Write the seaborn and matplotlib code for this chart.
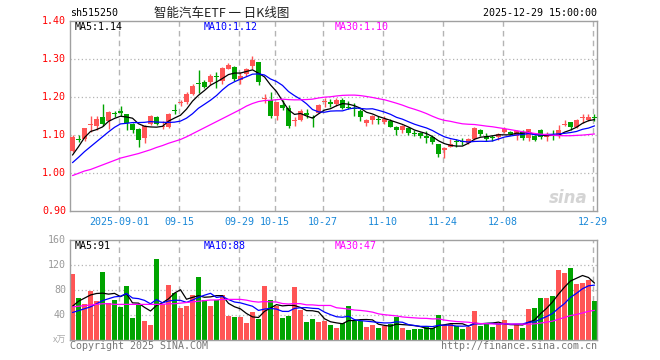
import numpy as np
import pandas as pd
import matplotlib
matplotlib.use("Agg")
import matplotlib.pyplot as plt
import seaborn as sns

# ---------------- data ----------------
opens = [1.060, 1.090, 1.089, 1.128, 1.125, 1.147, 1.137, 1.159, 1.164, 1.155,
         1.130, 1.117, 1.094, 1.130, 1.147, 1.123, 1.123, 1.167, 1.185, 1.188,
         1.210, 1.236, 1.241, 1.239, 1.256, 1.243, 1.274, 1.280, 1.245, 1.261,
         1.283, 1.292, 1.195, 1.193, 1.152, 1.180, 1.173, 1.137, 1.140, 1.160,
         1.147, 1.160, 1.187, 1.188, 1.182, 1.193, 1.175, 1.170, 1.165, 1.133,
         1.140, 1.141, 1.136, 1.138, 1.123, 1.114, 1.118, 1.106, 1.105, 1.098,
         1.095, 1.077, 1.062, 1.070, 1.084, 1.085, 1.079, 1.089, 1.114, 1.098,
         1.096, 1.095, 1.110, 1.108, 1.098, 1.108, 1.092, 1.099, 1.114, 1.095,
         1.099, 1.101, 1.128, 1.136, 1.121, 1.146, 1.140, 1.148]
highs = [1.100, 1.100, 1.120, 1.152, 1.151, 1.182, 1.164, 1.164, 1.178, 1.157,
         1.133, 1.120, 1.127, 1.154, 1.150, 1.138, 1.158, 1.182, 1.192, 1.213,
         1.234, 1.272, 1.245, 1.262, 1.267, 1.280, 1.290, 1.283, 1.266, 1.276,
         1.309, 1.294, 1.210, 1.215, 1.187, 1.193, 1.179, 1.148, 1.168, 1.168,
         1.153, 1.182, 1.197, 1.196, 1.197, 1.199, 1.191, 1.184, 1.168, 1.142,
         1.153, 1.150, 1.150, 1.144, 1.124, 1.126, 1.121, 1.114, 1.108, 1.111,
         1.100, 1.077, 1.068, 1.089, 1.089, 1.094, 1.094, 1.122, 1.117, 1.107,
         1.101, 1.106, 1.122, 1.111, 1.114, 1.114, 1.117, 1.101, 1.117, 1.110,
         1.114, 1.127, 1.141, 1.136, 1.142, 1.155, 1.157, 1.157]
lows = [1.055, 1.082, 1.086, 1.110, 1.114, 1.124, 1.117, 1.149, 1.150, 1.115,
        1.105, 1.068, 1.080, 1.128, 1.128, 1.116, 1.118, 1.156, 1.177, 1.183,
        1.205, 1.212, 1.225, 1.232, 1.224, 1.236, 1.274, 1.243, 1.236, 1.257,
        1.274, 1.232, 1.184, 1.145, 1.140, 1.167, 1.120, 1.124, 1.137, 1.146,
        1.123, 1.158, 1.174, 1.174, 1.177, 1.168, 1.168, 1.151, 1.138, 1.125,
        1.130, 1.131, 1.130, 1.121, 1.101, 1.106, 1.101, 1.098, 1.093, 1.080,
        1.076, 1.044, 1.039, 1.068, 1.068, 1.074, 1.076, 1.087, 1.098, 1.084,
        1.085, 1.088, 1.106, 1.101, 1.088, 1.088, 1.086, 1.086, 1.091, 1.086,
        1.088, 1.092, 1.124, 1.115, 1.119, 1.132, 1.138, 1.138]
closes = [1.095, 1.088, 1.118, 1.131, 1.143, 1.130, 1.161, 1.157, 1.160, 1.133,
          1.114, 1.088, 1.124, 1.151, 1.130, 1.125, 1.156, 1.165, 1.188, 1.210,
          1.230, 1.234, 1.228, 1.257, 1.253, 1.276, 1.285, 1.248, 1.257, 1.274,
          1.297, 1.241, 1.199, 1.152, 1.187, 1.173, 1.124, 1.139, 1.164, 1.154,
          1.145, 1.180, 1.189, 1.182, 1.193, 1.173, 1.173, 1.168, 1.149, 1.140,
          1.151, 1.139, 1.143, 1.123, 1.114, 1.124, 1.105, 1.104, 1.098, 1.092,
          1.083, 1.051, 1.066, 1.076, 1.082, 1.083, 1.089, 1.118, 1.103, 1.089,
          1.094, 1.103, 1.117, 1.103, 1.111, 1.092, 1.117, 1.088, 1.095, 1.103,
          1.097, 1.115, 1.131, 1.123, 1.140, 1.149, 1.149, 1.146]
volumes = [106, 67, 58, 79, 62, 109, 59, 64, 53, 86,
           35, 57, 30, 24, 130, 57, 88, 76, 51, 54,
           72, 101, 64, 54, 64, 72, 39, 37, 37, 27,
           45, 34, 86, 64, 54, 35, 38, 85, 48, 29,
           34, 29, 30, 24, 20, 27, 54, 31, 31, 21,
           24, 19, 22, 25, 37, 20, 16, 17, 17, 22,
           19, 40, 24, 26, 22, 18, 21, 47, 22, 25,
           21, 28, 32, 17, 24, 19, 49, 51, 67, 67,
           70, 112, 107, 116, 89, 92, 96, 62]

# moving-average lines before enough bars exist in the window
ma5_head = [1.048, 1.070, 1.094, 1.110]
ma10_head = [1.028, 1.042, 1.057, 1.070, 1.083, 1.096, 1.109, 1.121, 1.130]
ma30_head = [0.994, 1.000, 1.006, 1.010, 1.016, 1.022, 1.028, 1.034, 1.040, 1.044,
             1.048, 1.052, 1.057, 1.062, 1.068, 1.073, 1.079, 1.084, 1.089, 1.096,
             1.104, 1.112, 1.120, 1.128, 1.136, 1.144, 1.152, 1.160, 1.168]
vma5_head = [54, 62, 67, 72]
vma10_head = [44, 47, 50, 53, 58, 63, 66, 69, 70]
vma30_head = [53, 54, 55, 56, 57, 58, 58, 57, 57, 57, 57, 57, 57, 57, 57,
              57, 58, 58, 59, 60, 61, 62, 63, 64, 64, 65, 65, 65, 65]

tick_index = [8, 18, 28, 34, 42, 52, 62, 72, 87]
tick_labels = ["2025-09-01", "09-15", "09-29", "10-15", "10-27",
               "11-10", "11-24", "12-08", "12-29"]
price_ticks = [0.90, 1.00, 1.10, 1.20, 1.30, 1.40]
vol_ticks = [40, 80, 120, 160]

# ---------------- helpers ----------------
def moving_average(values, n, head):
    s = pd.Series(values, dtype=float).rolling(n).mean()
    s.iloc[:len(head)] = head
    return s.to_numpy()

RED = "#ff5555"
GREEN = "#00a400"
GRID = "#b4b4b4"
FRAME = "#a0a0a0"
BLUE_TXT = "#1a88d8"
MONO = "DejaVu Sans Mono"

sns.set_theme(style="white")
plt.rcParams["font.family"] = ["DejaVu Sans Mono", "Noto Sans CJK SC"]

n = len(closes)
idx = np.arange(n)
o = np.array(opens); c = np.array(closes)
h = np.array(highs); l = np.array(lows)
up = c >= o
colors = np.where(up, RED, GREEN)

ma5 = moving_average(closes, 5, ma5_head)
ma10 = moving_average(closes, 10, ma10_head)
ma30 = moving_average(closes, 30, ma30_head)
vma5 = moving_average(volumes, 5, vma5_head)
vma10 = moving_average(volumes, 10, vma10_head)
vma30 = moving_average(volumes, 30, vma30_head)

W, H = 660, 360
fig = plt.figure(figsize=(6.6, 3.6), dpi=100)
fig.patch.set_facecolor("white")

def fx(px):
    return px / W

def fy(py):
    return 1 - py / H

XL, XR = 70, 597
ax = fig.add_axes([fx(XL), fy(211.3), fx(XR - XL), (211.3 - 21.3) / H])
axv = fig.add_axes([fx(XL), fy(340), fx(XR - XL), (340 - 240) / H])

xlim = ((XL - 72.5) / 6, (XR - 72.5) / 6)

# ---------------- price panel ----------------
for y in price_ticks[1:-1]:
    ax.axhline(y, color=GRID, lw=0.9, ls=(0, (1, 2)), zorder=0)
for t in tick_index:
    ax.axvline(t - 0.25, color=GRID, lw=1.0, ls=(0, (4, 3)), zorder=0)

ax.vlines(idx, l, h, colors=colors, lw=1.0, zorder=2)
body_h = np.maximum(np.abs(c - o), 0.0026)
body_b = np.minimum(o, c)
ax.bar(idx, body_h, bottom=body_b, width=0.8, color=colors, linewidth=0, zorder=3)

sns.lineplot(x=idx, y=ma5, ax=ax, color="black", lw=0.9, zorder=4)
sns.lineplot(x=idx, y=ma10, ax=ax, color="#0000ff", lw=0.9, zorder=4)
sns.lineplot(x=idx, y=ma30, ax=ax, color="#ff00ff", lw=0.9, zorder=4)

ax.set_xlim(*xlim)
ax.set_ylim(0.90, 1.40)
ax.set_xticks([])
ax.set_yticks([])
for sp in ax.spines.values():
    sp.set_color(FRAME); sp.set_linewidth(1.0); sp.set_visible(True)

# y labels (red)
for v in price_ticks:
    fig.text(fx(66), fy(211.3 - (v - 0.90) * 380), f"{v:.2f}", color="#ff0000",
             fontsize=7.2, family=MONO, ha="right", va="center")
# date labels
for t, lab in zip(tick_index, tick_labels):
    xpx = 72.5 + 6 * (t - 0.25)
    fig.text(fx(xpx), fy(222), lab, color=BLUE_TXT, fontsize=7.2,
             family=MONO, ha="center", va="center")

# MA legend texts
fig.text(fx(75), fy(26.5), f"MA5:{ma5[-1]:.2f}", color="black", fontsize=7.2,
         family=MONO, va="center")
fig.text(fx(204), fy(26.5), f"MA10:{ma10[-1]:.2f}", color="#0000ff", fontsize=7.2,
         family=MONO, va="center")
fig.text(fx(335), fy(26.5), f"MA30:{ma30[-1]:.2f}", color="#ff00ff", fontsize=7.2,
         family=MONO, va="center")

# header
fig.text(fx(70), fy(13), "sh515250", color="black", fontsize=7.2, family=MONO,
         va="center")
fig.text(fx(222), fy(13), "智能汽车ETF 一 日K线图", color="#222222", fontsize=9,
         family=["Noto Sans CJK SC", "DejaVu Sans"], ha="center", va="center")
fig.text(fx(597), fy(13), "2025-12-29 15:00:00", color="black", fontsize=7.2,
         family=MONO, ha="right", va="center")

# watermark
fig.text(fx(588), fy(198), "sina", color="#d0d0d0", fontsize=12,
         family="DejaVu Sans", style="italic", weight="bold", ha="right",
         va="center", alpha=0.9)

# ---------------- volume panel ----------------
for y in vol_ticks[:-1]:
    axv.axhline(y, color=GRID, lw=0.9, ls=(0, (1, 2)), zorder=0)
for t in tick_index:
    axv.axvline(t - 0.25, color=GRID, lw=1.0, ls=(0, (4, 3)), zorder=0)

vdf = pd.DataFrame({"i": idx, "vol": volumes,
                    "dir": np.where(up, "up", "down")})
sns.barplot(data=vdf, x="i", y="vol", hue="dir", native_scale=True,
            palette={"up": RED, "down": GREEN}, dodge=False, width=0.8,
            linewidth=0, saturation=1, legend=False, ax=axv, zorder=2)
sns.lineplot(x=idx, y=vma5, ax=axv, color="black", lw=0.9, zorder=4)
sns.lineplot(x=idx, y=vma10, ax=axv, color="#0000ff", lw=0.9, zorder=4)
sns.lineplot(x=idx, y=vma30, ax=axv, color="#ff00ff", lw=0.9, zorder=4)

axv.set_xlim(*xlim)
axv.set_ylim(0, 160)
axv.set_xticks([]); axv.set_yticks([])
axv.set_xlabel(""); axv.set_ylabel("")
ax.set_xlabel(""); ax.set_ylabel("")
for sp in axv.spines.values():
    sp.set_color(FRAME); sp.set_linewidth(1.0); sp.set_visible(True)

for v in vol_ticks:
    fig.text(fx(66), fy(340 - v * 0.625), f"{v}", color="#999999",
             fontsize=7.2, family=MONO, ha="right", va="center")
fig.text(fx(66), fy(340), "x万", color="#aaaaaa", fontsize=6.5,
         family=["Noto Sans CJK SC", "DejaVu Sans"], ha="right", va="center")

fig.text(fx(75), fy(246), f"MA5:{vma5[-1]:.0f}", color="black", fontsize=7.2,
         family=MONO, va="center")
fig.text(fx(204), fy(246), f"MA10:{vma10[-1]:.0f}", color="#0000ff", fontsize=7.2,
         family=MONO, va="center")
fig.text(fx(335), fy(246), f"MA30:{vma30[-1]:.0f}", color="#ff00ff", fontsize=7.2,
         family=MONO, va="center")

fig.text(fx(70), fy(346), "Copyright 2025 SINA.COM", color="#777777",
         fontsize=7.2, family=MONO, va="center")
fig.text(fx(597), fy(346), "http://finance.sina.com.cn", color="#777777",
         fontsize=7.2, family=MONO, ha="right", va="center")

fig.savefig("out.png", dpi=100, facecolor="white")
